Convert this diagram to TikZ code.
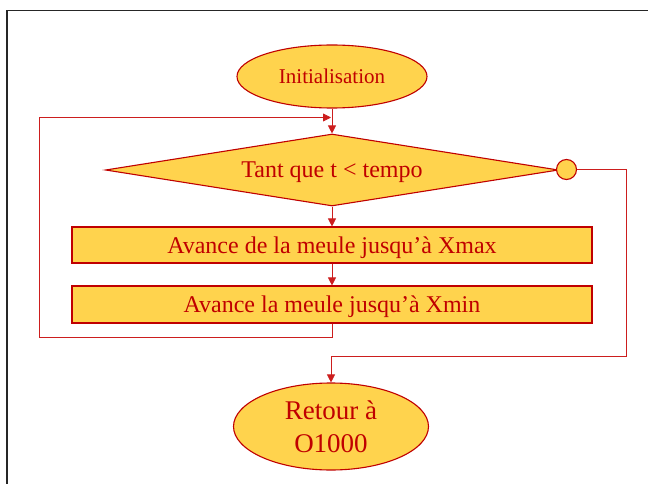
\documentclass[tikz,border=0pt]{standalone}
\usepackage{fontspec}
\setmainfont{Liberation Serif}
\usetikzlibrary{shapes.geometric,arrows.meta}
\definecolor{fillY}{RGB}{255,211,77}
\definecolor{dred}{RGB}{192,0,0}
\definecolor{lred}{RGB}{204,30,30}
\begin{document}
\begin{tikzpicture}[x=1pt,y=-1pt,
  shapeframe/.style={draw=dred,line width=1.1pt,fill=fillY,text=dred,inner sep=0pt},
  ovalbox/.style={shapeframe,ellipse},
  bigtext/.style={font=\fontsize{24}{29}\selectfont,text height=16pt,text depth=0pt},
  condbox/.style={shapeframe,diamond,aspect=6.3,minimum width=453pt,minimum height=72pt},
  stepbox/.style={shapeframe,rectangle,minimum width=520pt,minimum height=36pt},
  joint/.style={shapeframe,circle,minimum size=20pt},
  conn/.style={draw=lred,line width=0.8pt},
  arr/.style={conn,-{Triangle[length=8pt,width=8pt]}},
]
\useasboundingbox (0,0) rectangle (648,484);
\fill[white] (0,0) rectangle (648,484);
% frame
\draw[black!85,line width=1.6pt] (7,484) -- (7,10.5) -- (648,10.5);

\node[ovalbox,minimum width=190pt,minimum height=63pt,font=\fontsize{21}{25}\selectfont,text height=14pt,text depth=0pt] (init) at (332,76.5) {Initialisation};
\node[condbox,bigtext] (cond) at (332,170) {Tant que t < tempo};
\node[joint] (circ) at (566.5,169.5) {};
\node[stepbox,bigtext] (b1) at (332,245) {Avance de la meule jusqu’à Xmax};
\node[stepbox,bigtext,minimum height=37pt] (b2) at (332,304.5) {Avance la meule jusqu’à Xmin};
\node[ovalbox,minimum width=195pt,minimum height=87pt,align=center,font=\fontsize{27}{33}\selectfont] (ret) at (331,426.5) {Retour à\\O1000};

\coordinate (loopin) at (331,117.5);
\coordinate (lb) at (332,337.5);
\coordinate (ll) at (39,337.5);
\coordinate (lt) at (39,117.5);
\coordinate (rt) at (626,169.5);
\coordinate (rb) at (626,356);
\coordinate (rr) at (331,356);

\draw[arr] (init) -- (cond);
\draw[arr] (cond) -- (b1);
\draw[arr] (b1) -- (b2);
\draw[arr] (b2.south) -- (lb) -- (ll) -- (lt) -- (loopin);
\draw[conn] (circ) -- (rt) -- (rb) -- (rr);
\draw[arr] (rr) -- (ret.north);
\end{tikzpicture}
\end{document}
